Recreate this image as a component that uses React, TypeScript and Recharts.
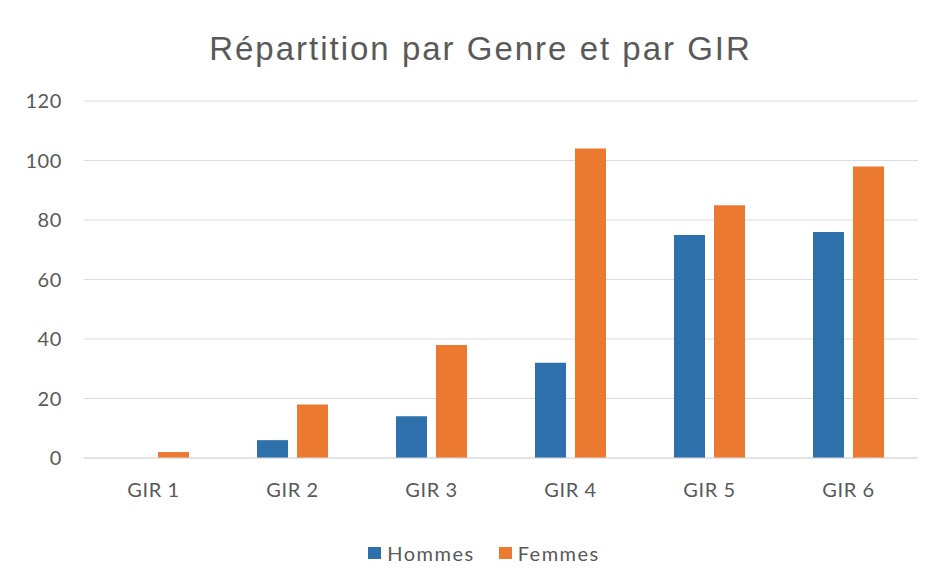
import React from 'react';
import { BarChart, Bar, XAxis, YAxis, CartesianGrid, Legend } from 'recharts';

const categories = ['GIR 1', 'GIR 2', 'GIR 3', 'GIR 4', 'GIR 5', 'GIR 6'];
const hommes = [0, 6, 14, 32, 75, 76];
const femmes = [2, 18, 38, 104, 85, 98];
const yTicks = [0, 20, 40, 60, 80, 100, 120];

const data = categories.map((name, i) => ({ name, Hommes: hommes[i], Femmes: femmes[i] }));

const BLUE = '#2E70AB';
const ORANGE = '#EB7A30';
const TEXT = '#595959';
const FONT = 'Lato, "Open Sans", sans-serif';

function LegendContent() {
    const items = [
        { label: 'Hommes', color: BLUE },
        { label: 'Femmes', color: ORANGE },
    ];
    return (
        <div style={{ height: 30, paddingLeft: 50, display: 'flex', justifyContent: 'center', alignItems: 'center', gap: 24 }}>
            {items.map((it) => (
                <div key={it.label} style={{ display: 'flex', alignItems: 'center', gap: 6 }}>
                    <span style={{ width: 13, height: 12, background: it.color, display: 'inline-block' }} />
                    <span style={{ fontFamily: FONT, fontSize: 20, letterSpacing: 1.5, color: TEXT }}>{it.label}</span>
                </div>
            ))}
        </div>
    );
}

export default function App() {
    return (
        <div style={{ position: 'absolute', left: 0, top: 0, width: 933, height: 582, background: '#fff' }}>
            <div
                style={{
                    position: 'absolute',
                    top: 29,
                    left: 14,
                    width: 933,
                    textAlign: 'center',
                    fontFamily: '"Liberation Sans", Arial, sans-serif',
                    fontSize: 33,
                    letterSpacing: 2,
                    color: TEXT,
                    lineHeight: '40px',
                    zIndex: 1,
                }}
            >
                Répartition par Genre et par GIR
            </div>
            <BarChart
                width={933}
                height={582}
                data={data}
                margin={{ top: 101, right: 15, bottom: 44, left: 0 }}
                barGap={9}
                barSize={31}
            >
                <CartesianGrid vertical={false} stroke="#dcdcdc" />
                <XAxis
                    dataKey="name"
                    height={50}
                    tickLine={false}
                    tickSize={0}
                    tickMargin={25}
                    axisLine={{ stroke: '#d9d9d9' }}
                    tick={{ fill: TEXT, fontSize: 20, letterSpacing: 0.6, fontFamily: FONT }}
                />
                <YAxis
                    width={84}
                    domain={[0, 120]}
                    ticks={yTicks}
                    axisLine={false}
                    tickLine={false}
                    tickSize={0}
                    tickMargin={22}
                    tick={{ fill: TEXT, fontSize: 20, letterSpacing: 0.6, fontFamily: FONT }}
                />
                <Legend verticalAlign="bottom" content={<LegendContent />} wrapperStyle={{ bottom: 14 }} />
                <Bar dataKey="Hommes" fill={BLUE} isAnimationActive={false} />
                <Bar dataKey="Femmes" fill={ORANGE} isAnimationActive={false} />
            </BarChart>
        </div>
    );
}
